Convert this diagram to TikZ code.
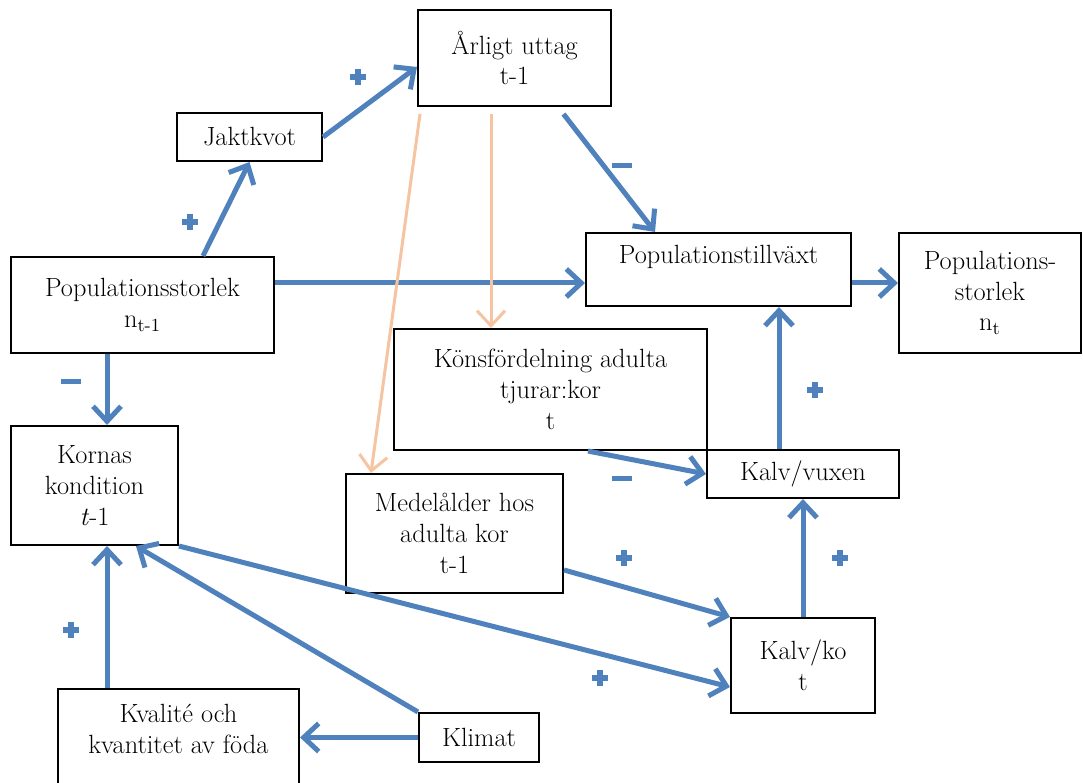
\documentclass[tikz,border=0pt]{standalone}
\usepackage{tikz}
\usetikzlibrary{arrows.meta, positioning}

\definecolor{flowblue}{RGB}{79,129,189}
\definecolor{agepeach}{RGB}{246,196,160}

\begin{document}
\begin{tikzpicture}[x=0.02cm, y=-0.02cm]
	\tikzstyle{box} = [draw,rectangle,line width=1.2pt,align=center,inner sep=2pt,font=\fontsize{15}{17.5}\selectfont]
	\tikzstyle{flow} = [draw=flowblue,line width=0.1cm,-{Straight Barb[length=3mm,width=5.6mm]}]
	\tikzstyle{ageflow} = [draw=agepeach,line width=0.06cm,-{Straight Barb[length=3mm,width=5.6mm]}]
	\tikzstyle{minusmark} = [rectangle,fill=flowblue,inner sep=0pt,minimum width=0.4cm,minimum height=0.1cm]
	\tikzstyle{plusmark} = [rectangle,inner sep=0pt,minimum size=0.32cm,path picture={
		\fill[flowblue] ([xshift=-0.16cm,yshift=-0.06cm]path picture bounding box.center) rectangle ([xshift=0.16cm,yshift=0.06cm]path picture bounding box.center);
		\fill[flowblue] ([xshift=-0.06cm,yshift=-0.16cm]path picture bounding box.center) rectangle ([xshift=0.06cm,yshift=0.16cm]path picture bounding box.center);}]
	\path[fill=white,use as bounding box] (0,0) rectangle (1083,783);
	\node (arlig) [box,minimum width=3.86cm,minimum height=1.92cm] at (514.5,58) {Årligt uttag\\t-1};
	\node (jakt) [box,minimum width=2.9cm,minimum height=0.96cm] at (249.5,137) {Jaktkvot};
	\node (pop) [box,minimum width=5.26cm,minimum height=1.92cm] at (142.5,305) {Populationsstorlek\\n\textsubscript{t-1}};
	\node (popt) [box,minimum width=5.3cm,minimum height=1.46cm] at (718.5,269.5) {Populationstillväxt\\ \mbox{}};
	\node (popn) [box,minimum width=3.64cm,minimum height=2.4cm] at (990,293) {Populations-\\storlek\\n\textsubscript{t}};
	\node (kon) [box,minimum width=6.26cm,minimum height=2.42cm] at (550.5,389.5) {Könsfördelning adulta\\tjurar:kor\\t};
	\node (kalvv) [box,minimum width=3.84cm,minimum height=0.96cm] at (803,474) {Kalv/vuxen};
	\node (kornas) [box,minimum width=3.34cm,minimum height=2.38cm] at (94.5,485.5) {Kornas\\kondition\\\textit{t}-1};
	\node (medel) [box,minimum width=4.34cm,minimum height=2.38cm] at (454.5,533.5) {Medelålder hos\\adulta kor\\t-1};
	\node (kalvko) [box,minimum width=2.88cm,minimum height=1.9cm] at (803,665.5) {Kalv/ko\\t};
	\node (kval) [box,minimum width=4.82cm,minimum height=2.22cm] at (178.5,744.5) {Kvalité och\\kvantitet av föda\\ \mbox{}};
	\node (klimat) [box,minimum width=2.4cm,minimum height=0.98cm] at (479,737.5) {Klimat};

	\draw[flow] ([xshift=1.21cm]pop.north) -- (jakt.south);
	\draw[flow] (jakt.east) -- ([yshift=-0.18cm]arlig.west);
	\draw[flow] ([yshift=0.44cm]pop.east) -- ([yshift=0.44cm]pop.east -| popt.west);
	\draw[flow] ([xshift=0.98cm,yshift=-0.14cm]arlig.south) -- ([xshift=-1.27cm]popt.north);
	\draw[flow] ([yshift=-0.27cm]popt.east) -- ([yshift=-0.27cm]popt.east -| popn.west);
	\draw[ageflow] ([xshift=-0.47cm,yshift=-0.14cm]arlig.south) -- ([xshift=-0.47cm]arlig.south |- kon.north);
	\draw[ageflow] ([xshift=-1.89cm,yshift=-0.14cm]arlig.south) -- ([xshift=-1.67cm]medel.north);
	\draw[flow] ([xshift=0.75cm]kon.south) -- (kalvv.west);
	\draw[flow] ([xshift=-0.48cm]kalvv.north) -- ([xshift=-0.48cm]kalvv.north |- popt.south);
	\draw[flow] (kalvko.north) -- (kalvv.south);
	\draw[flow] ([yshift=-0.73cm]medel.east) -- (kalvko.north west);
	\draw[flow] (kornas.south east) -- ([yshift=-0.43cm]kalvko.west);
	\draw[flow] ([xshift=-0.71cm]pop.south) -- ([xshift=-0.71cm]pop.south |- kornas.north);
	\draw[flow] ([xshift=-1.43cm]kval.north) -- ([xshift=-1.43cm]kval.north |- kornas.south);
	\draw[flow] (klimat.west) -- (klimat.west -| kval.east);
	\draw[flow] (klimat.north west) -- ([xshift=0.83cm]kornas.south);

	\node (jaktsign) [plusmark] at (358,77) {};
	\node (popsign) [plusmark] at (190,222) {};
	\node (uttagsign) [minusmark] at (622,166) {};
	\node (kondsign) [minusmark] at (71,382) {};
	\node (vuxensign) [plusmark] at (815,390) {};
	\node (konsign) [minusmark] at (622,479) {};
	\node (medelsign) [plusmark] at (624,558) {};
	\node (kalvsign) [plusmark] at (840,558) {};
	\node (fodasign) [plusmark] at (71,630) {};
	\node (kornassign) [plusmark] at (600,678) {};
\end{tikzpicture}
\end{document}
